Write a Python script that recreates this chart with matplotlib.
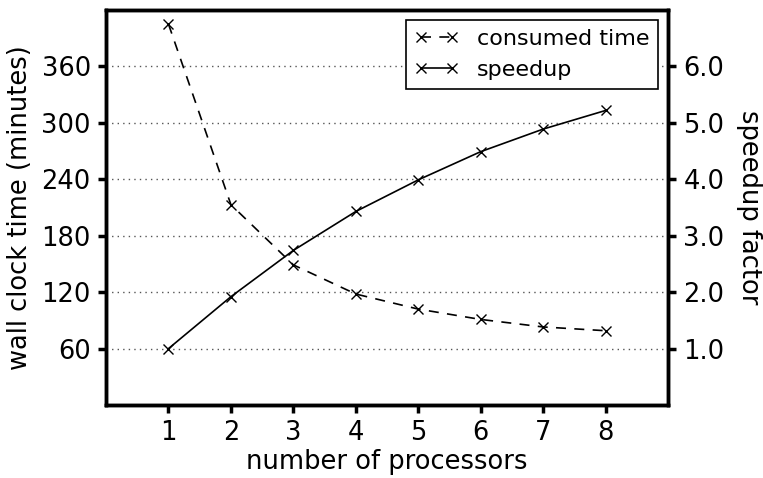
import matplotlib
matplotlib.use("Agg")
import matplotlib.pyplot as plt

processors = [1, 2, 3, 4, 5, 6, 7, 8]
consumed_time = [405, 213, 149, 118, 102, 91, 83, 79]
speedup = [1.0, 1.92, 2.74, 3.43, 3.99, 4.49, 4.89, 5.22]
left_ticks = [60, 120, 180, 240, 300, 360]
right_ticks = [1.0, 2.0, 3.0, 4.0, 5.0, 6.0]

plt.rcParams['font.family'] = 'DejaVu Sans'
fs = 18.5
fig = plt.figure(figsize=(7.63, 4.78), dpi=100)
ax = fig.add_axes([0.139, 0.1527, 0.7365, 0.8263])
ax2 = ax.twinx()

ymin, ymax = 0, 420
ax.set_xlim(0, 9)
ax.set_ylim(ymin, ymax)
ax2.set_ylim(ymin / 60, ymax / 60)

l1, = ax.plot(processors, consumed_time, color='black', linestyle=(0, (6, 5)), lw=1.2,
              marker='x', markersize=7.5, markeredgewidth=1.0, label='consumed time')
l2, = ax2.plot(processors, speedup, color='black', linestyle='-', lw=1.2,
               marker='x', markersize=7.5, markeredgewidth=1.0, label='speedup')

ax.set_xticks(processors)
ax.set_yticks(left_ticks)
ax2.set_yticks(right_ticks)
ax2.set_yticklabels([f"{v:.1f}" for v in right_ticks])
ax.yaxis.grid(True, linestyle=(0, (1, 3)), color='#555555', lw=1.0)
ax.set_axisbelow(True)

for a in (ax, ax2):
    for s in a.spines.values():
        s.set_linewidth(2.5)
    a.tick_params(direction='out', length=6, width=2.5, labelsize=fs, pad=5)

ax.set_xlabel('number of processors', fontsize=fs, labelpad=2)
ax.set_ylabel('wall clock time (minutes)', fontsize=fs, labelpad=6)
ax2.set_ylabel('speedup factor', fontsize=fs, rotation=270, labelpad=27)

leg = ax2.legend([l1, l2], ['consumed time', 'speedup'], loc='upper right', fontsize=16,
                 numpoints=2, fancybox=False, edgecolor='black', framealpha=1,
                 handlelength=2.0, borderaxespad=0.45, handletextpad=0.8)
leg.get_frame().set_linewidth(1.2)

fig.savefig('out.png', dpi=100)
